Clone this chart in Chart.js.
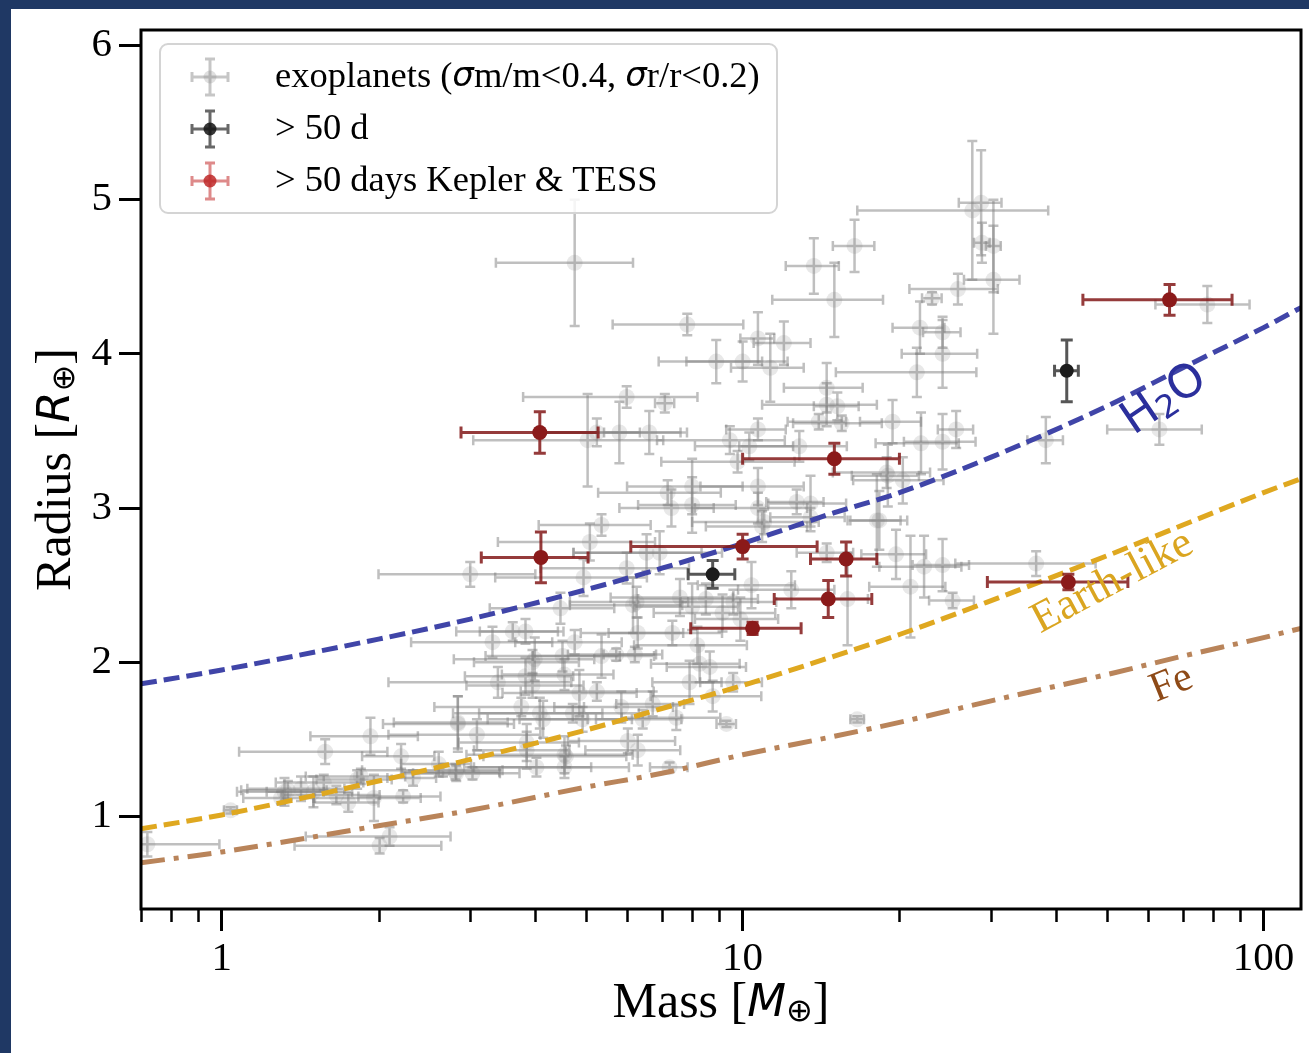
<!DOCTYPE html>
<html>
<head>
<meta charset="utf-8">
<script src="https://cdn.jsdelivr.net/npm/chart.js@4.4.1/dist/chart.umd.min.js"></script>
<style>
html, body { margin: 0; padding: 0; background: #1f3864; width: 1309px; height: 1053px; overflow: hidden; }
#wrap { position: absolute; left: 11px; top: 9px; width: 1298px; height: 1044px; background: #fff; }
</style>
</head>
<body>
<div id="wrap"><canvas id="mr" width="1298" height="1044"></canvas></div>
<script>
// all exoplanets with good mass/radius
var massAll = [0.72, 2.10, 2.01, 1.04, 1.32, 1.42, 1.50, 1.57, 1.66, 1.75, 1.85, 1.96, 2.23, 2.33, 2.21, 1.93, 1.58, 2.61, 2.84, 2.81,
  1.30, 1.34, 1.82, 5.36, 5.09, 3.00, 4.95, 4.47, 6.16, 6.29, 3.31, 3.62, 3.83, 4.76, 3.99, 4.51, 5.36, 5.72, 6.21, 3.39,
  3.83, 3.95, 4.55, 4.86, 5.25, 3.76, 4.08, 4.14, 4.72, 4.93, 5.85, 6.43, 6.72, 2.84, 3.09, 3.85, 4.55, 4.02, 4.55, 3.03,
  2.82, 6.02, 6.29, 7.46, 7.24, 9.31, 7.91, 8.27, 8.65, 9.59, 8.19, 7.33, 8.76, 7.58, 8.00, 8.50, 9.15, 9.60, 9.90, 6.26,
  10.4, 6.54, 6.93, 5.99, 10.9, 5.99, 7.09, 5.04, 5.25, 5.80, 6.62, 9.45, 10.7, 9.78, 10.3, 12.85, 14.5, 14.5, 15.2, 14.0,
  15.5, 19.4, 19.0, 7.18, 8.00, 8.00, 7.30, 10.7, 10.7, 11.0, 12.7, 13.5, 13.5, 18.3, 19.7, 14.5, 12.4, 15.9, 4.76, 7.83,
  8.9, 10.0, 10.7, 27.6, 28.7, 28.8, 30.3, 30.3, 25.9, 23.1, 16.4, 13.7, 15.0, 21.9, 24.2, 24.2, 21.6, 12.0, 11.3, 22.0,
  24.2, 25.7, 38.2, 18.9, 63.1, 20.3, 18.1, 22.3, 24.2, 21.0, 25.3, 36.6, 78.0, 16.6, 3.95, 3.85, 4.58, 2.66];
var massAllErr = [0.27, 0.65, 0.63, 0.03, 0.25, 0.30, 0.28, 0.30, 0.35, 0.25, 0.40, 0.45, 0.40, 0.25, 0.35, 0.45, 0.50, 0.40, 0.80, 0.60,
  0.20, 0.25, 0.30, 1.30, 1.70, 1.00, 1.60, 1.20, 1.50, 1.40, 1.00, 0.80, 0.70, 1.10, 1.20, 1.30, 1.40, 1.10, 0.80, 1.30,
  0.90, 1.00, 1.10, 1.40, 1.50, 1.20, 1.30, 0.90, 1.60, 1.20, 1.50, 1.20, 1.00, 0.70, 1.00, 0.80, 1.60, 1.10, 1.50, 0.70,
  0.60, 1.40, 1.30, 1.60, 0.60, 0.40, 1.20, 1.60, 1.50, 1.30, 2.00, 1.80, 2.10, 2.00, 1.80, 2.20, 2.40, 2.00, 1.80, 1.60,
  2.20, 1.80, 2.20, 1.90, 2.40, 2.20, 0.30, 2.00, 1.10, 1.80, 1.20, 2.60, 1.40, 2.80, 2.20, 3.00, 2.50, 3.60, 1.50, 1.80,
  3.00, 2.60, 2.80, 1.90, 2.00, 1.70, 1.50, 2.40, 2.60, 3.00, 1.60, 2.30, 2.20, 2.40, 2.80, 1.80, 2.60, 1.50, 1.40, 2.20,
  2.00, 2.20, 0.80, 11.0, 2.70, 1.00, 1.00, 3.70, 5.00, 1.00, 1.50, 1.60, 3.60, 2.50, 2.00, 4.00, 6.50, 1.50, 1.80, 4.00,
  3.80, 2.00, 3.00, 4.00, 13.0, 4.00, 2.00, 4.00, 3.00, 3.50, 2.50, 11.0, 16.0, 0.50, 0.90, 1.00, 1.40, 0.80];
var radiusAll = [0.82, 0.87, 0.81, 1.04, 1.16, 1.18, 1.16, 1.22, 1.14, 1.09, 1.26, 1.12, 1.13, 1.25, 1.39, 1.52, 1.42, 1.34, 1.60, 1.29,
  1.12, 1.17, 1.24, 2.89, 2.78, 2.57, 2.55, 2.35, 2.37, 2.19, 2.13, 2.20, 2.20, 2.13, 2.02, 2.04, 2.04, 2.05, 2.05, 1.87,
  1.91, 1.85, 1.92, 1.80, 1.81, 1.71, 1.67, 1.63, 1.67, 1.63, 1.71, 1.63, 1.73, 1.61, 1.53, 1.43, 1.40, 1.32, 1.32, 1.28,
  1.28, 1.49, 1.43, 1.64, 1.32, 1.60, 1.87, 1.99, 1.97, 1.87, 2.11, 2.19, 1.78, 2.42, 2.36, 2.41, 2.32, 2.39, 2.28, 2.39,
  2.50, 2.71, 2.71, 2.61, 2.88, 3.72, 3.68, 3.44, 3.49, 3.49, 3.49, 3.44, 3.51, 3.30, 3.40, 3.40, 3.78, 3.67, 3.66, 3.56,
  3.55, 3.56, 3.21, 3.10, 3.14, 3.02, 3.00, 3.14, 3.00, 2.91, 3.04, 3.03, 2.94, 2.92, 2.70, 2.71, 2.47, 2.41, 4.59, 4.19,
  3.95, 3.95, 4.10, 4.93, 4.98, 4.72, 4.70, 4.48, 4.42, 4.36, 4.70, 4.57, 4.35, 4.17, 4.14, 4.00, 3.88, 4.07, 3.91, 3.42,
  3.43, 3.51, 3.44, 3.23, 3.51, 3.18, 2.92, 2.62, 2.63, 2.49, 2.40, 2.64, 4.32, 1.63, 2.00, 1.48, 1.39, 1.30];
var radiusAllErr = [0.08, 0.06, 0.05, 0.02, 0.09, 0.08, 0.10, 0.05, 0.06, 0.06, 0.05, 0.15, 0.04, 0.05, 0.08, 0.12, 0.08, 0.08, 0.18, 0.05,
  0.04, 0.06, 0.06, 0.07, 0.12, 0.08, 0.12, 0.10, 0.18, 0.10, 0.10, 0.06, 0.08, 0.08, 0.14, 0.10, 0.14, 0.04, 0.05, 0.10,
  0.12, 0.08, 0.10, 0.15, 0.06, 0.06, 0.10, 0.12, 0.06, 0.08, 0.10, 0.06, 0.08, 0.17, 0.10, 0.12, 0.12, 0.06, 0.07, 0.04,
  0.05, 0.08, 0.10, 0.08, 0.03, 0.02, 0.14, 0.12, 0.10, 0.06, 0.12, 0.08, 0.10, 0.12, 0.15, 0.10, 0.12, 0.08, 0.14, 0.10,
  0.15, 0.12, 0.14, 0.10, 0.10, 0.07, 0.06, 0.30, 0.09, 0.20, 0.14, 0.09, 0.07, 0.07, 0.09, 0.10, 0.16, 0.14, 0.09, 0.05,
  0.05, 0.14, 0.20, 0.08, 0.18, 0.18, 0.12, 0.12, 0.10, 0.08, 0.08, 0.18, 0.06, 0.19, 0.16, 0.06, 0.12, 0.30, 0.41, 0.07,
  0.14, 0.13, 0.17, 0.45, 0.34, 0.13, 0.30, 0.35, 0.10, 0.04, 0.17, 0.18, 0.24, 0.17, 0.10, 0.22, 0.16, 0.14, 0.22, 0.20,
  0.18, 0.12, 0.15, 0.10, 0.10, 0.15, 0.30, 0.20, 0.17, 0.33, 0.05, 0.08, 0.12, 0.02, 0.08, 0.12, 0.07, 0.04];

// > 50 d
var massLong = [41.9, 8.76];
var massLongErr = [2.2, 0.9];
var radiusLong = [3.89, 2.57];
var radiusLongErr = [0.20, 0.09];

// > 50 days Kepler & TESS
var massKT = [4.08, 4.10, 15.0, 10.0, 10.45, 15.8, 14.6, 42.2, 66.0];
var massKTErr = [1.2, 0.95, 5.0, 3.9, 2.5, 2.3, 3.1, 12.7, 21.0];
var radiusKT = [3.49, 2.68, 3.32, 2.75, 2.22, 2.67, 2.41, 2.52, 4.35];
var radiusKTErr = [0.135, 0.165, 0.10, 0.08, 0.04, 0.11, 0.12, 0.05, 0.10];

// composition curves
var modelMass = [0.7, 1, 2, 3, 5, 7, 10, 15, 20, 30, 50, 70, 100, 118];
var rH2O = [1.86, 1.95, 2.15, 2.28, 2.47, 2.61, 2.77, 2.97, 3.10, 3.33, 3.66, 3.91, 4.17, 4.30];
var rEarth = [0.92, 1.01, 1.23, 1.37, 1.56, 1.70, 1.85, 2.04, 2.18, 2.40, 2.69, 2.89, 3.10, 3.19];
var rFe = [0.70, 0.77, 0.94, 1.04, 1.19, 1.28, 1.40, 1.52, 1.61, 1.75, 1.92, 2.04, 2.16, 2.22];

var xTicks = [1, 10, 100];
var xMinorTicks = [0.7, 0.8, 0.9, 2, 3, 4, 5, 6, 7, 8, 9, 20, 30, 40, 50, 60, 70, 80, 90];
var yTicks = [1, 2, 3, 4, 5, 6];

var serif = '"Liberation Serif", "Times New Roman", serif';
var sans = '"DejaVu Sans", sans-serif';

function pts(xs, ys) {
    var out = [];
    for (var i = 0; i < xs.length; i++) {
        out.push({x: xs[i], y: ys[i]});
    }
    return out;
}

// error bars, drawn under each dataset's markers
var errorBars = {
    id: 'errorBars',
    beforeDatasetDraw: function(chart, args) {
        var ds = chart.data.datasets[args.index];
        if (!ds.xErr) return;
        var ctx = chart.ctx, xs = chart.scales.x, ys = chart.scales.y, a = chart.chartArea;
        ctx.save();
        ctx.beginPath();
        ctx.rect(a.left, a.top, a.right - a.left, a.bottom - a.top);
        ctx.clip();
        ctx.strokeStyle = ds.errColor;
        ctx.lineWidth = ds.errWidth;
        var cap = ds.capSize;
        for (var i = 0; i < ds.data.length; i++) {
            var p = ds.data[i];
            var lo = Math.max(p.x - ds.xErr[i], 0.05);
            var x0 = xs.getPixelForValue(lo), x1 = xs.getPixelForValue(p.x + ds.xErr[i]);
            var y0 = ys.getPixelForValue(p.y - ds.yErr[i]), y1 = ys.getPixelForValue(p.y + ds.yErr[i]);
            var px = xs.getPixelForValue(p.x), py = ys.getPixelForValue(p.y);
            ctx.beginPath();
            ctx.moveTo(x0, py); ctx.lineTo(x1, py);
            ctx.moveTo(px, y0); ctx.lineTo(px, y1);
            ctx.moveTo(x0, py - cap); ctx.lineTo(x0, py + cap);
            ctx.moveTo(x1, py - cap); ctx.lineTo(x1, py + cap);
            ctx.moveTo(px - cap, y0); ctx.lineTo(px + cap, y0);
            ctx.moveTo(px - cap, y1); ctx.lineTo(px + cap, y1);
            ctx.stroke();
        }
        ctx.restore();
    }
};

function errIcon(ctx, cx, cy, barCol, dotCol) {
    ctx.save();
    ctx.strokeStyle = barCol;
    ctx.lineWidth = 3;
    ctx.beginPath();
    ctx.moveTo(cx - 18, cy); ctx.lineTo(cx + 18, cy);
    ctx.moveTo(cx, cy - 18); ctx.lineTo(cx, cy + 18);
    ctx.moveTo(cx - 18, cy - 5); ctx.lineTo(cx - 18, cy + 5);
    ctx.moveTo(cx + 18, cy - 5); ctx.lineTo(cx + 18, cy + 5);
    ctx.moveTo(cx - 5, cy - 18); ctx.lineTo(cx + 5, cy - 18);
    ctx.moveTo(cx - 5, cy + 18); ctx.lineTo(cx + 5, cy + 18);
    ctx.stroke();
    ctx.fillStyle = dotCol;
    ctx.beginPath();
    ctx.arc(cx, cy, 6.5, 0, Math.PI * 2);
    ctx.fill();
    ctx.restore();
}

// draws a list of [text, font, dy] pieces one after the other
function pieces(ctx, parts, x, y) {
    for (var i = 0; i < parts.length; i++) {
        ctx.font = parts[i][1];
        ctx.fillText(parts[i][0], x, y + (parts[i][2] || 0));
        x += ctx.measureText(parts[i][0]).width;
    }
}
function piecesWidth(ctx, parts) {
    var w = 0;
    for (var i = 0; i < parts.length; i++) {
        ctx.font = parts[i][1];
        w += ctx.measureText(parts[i][0]).width;
    }
    return w;
}

var decorations = {
    id: 'decorations',
    afterDatasetsDraw: function(chart) {
        var ctx = chart.ctx, xs = chart.scales.x, ys = chart.scales.y, a = chart.chartArea;
        ctx.save();
        ctx.fillStyle = '#000';
        ctx.textBaseline = 'middle';

        // curve labels: text pieces, colour, mass, radius, angle
        var labels = [
            [[['H', '46px ' + sans], ['2', '32px ' + sans, 9], ['O', '46px ' + sans]], '#2b2f9c', 64.6, 3.70, -34],
            [[['Earth-like', '44px ' + serif]], '#daa520', 51.3, 2.52, -28],
            [[['Fe', '42px ' + serif]], '#8e4a17', 66.6, 1.86, -22]
        ];
        for (var i = 0; i < labels.length; i++) {
            var l = labels[i];
            ctx.save();
            ctx.translate(xs.getPixelForValue(l[2]), ys.getPixelForValue(l[3]));
            ctx.rotate(l[4] * Math.PI / 180);
            ctx.fillStyle = l[1];
            ctx.textAlign = 'left';
            pieces(ctx, l[0], -piecesWidth(ctx, l[0]) / 2, 0);
            ctx.restore();
        }

        // legend
        var bx = a.left + 19, by = a.top + 14;
        ctx.beginPath();
        ctx.roundRect(bx, by, 617, 169, 8);
        ctx.fillStyle = 'rgba(255,255,255,0.85)';
        ctx.fill();
        ctx.strokeStyle = '#d4d4d4';
        ctx.lineWidth = 2;
        ctx.stroke();
        errIcon(ctx, bx + 50, by + 33, 'rgba(128,128,128,0.45)', 'rgba(128,128,128,0.25)');
        errIcon(ctx, bx + 50, by + 85, 'rgba(40,40,40,0.7)', 'rgba(20,20,20,0.85)');
        errIcon(ctx, bx + 50, by + 137, 'rgba(200,60,60,0.6)', 'rgba(190,40,40,0.85)');
        ctx.fillStyle = '#000';
        ctx.textAlign = 'left';
        var f = '36.5px ' + serif, fi = 'italic 34px ' + sans;
        pieces(ctx, [['exoplanets (', f], ['\u03c3', fi], ['m/m<0.4, ', f], ['\u03c3', fi], ['r/r<0.2)', f]], bx + 115, by + 33);
        pieces(ctx, [['> 50 d', f]], bx + 115, by + 85);
        pieces(ctx, [['> 50 days Kepler & TESS', f]], bx + 115, by + 137);

        // frame
        ctx.strokeStyle = '#000';
        ctx.lineWidth = 3;
        ctx.strokeRect(a.left, a.top, a.right - a.left, a.bottom - a.top);

        // minor ticks on the mass axis
        ctx.lineWidth = 2.5;
        ctx.beginPath();
        for (var j = 0; j < xMinorTicks.length; j++) {
            var tx = Math.round(xs.getPixelForValue(xMinorTicks[j])) + 0.5;
            ctx.moveTo(tx, a.bottom);
            ctx.lineTo(tx, a.bottom + 13);
        }
        ctx.stroke();

        // axis titles
        var fl = '50px ' + serif, fm = 'italic 45px ' + sans, fs = '32px ' + sans;
        var xt = [['Mass [', fl], ['M', fm], ['\u2295', fs, 9], [']', fl]];
        ctx.fillStyle = '#000';
        pieces(ctx, xt, (a.left + a.right) / 2 - piecesWidth(ctx, xt) / 2, a.bottom + 95);
        var yt = [['Radius [', fl], ['R', fm], ['\u2295', fs, 9], [']', fl]];
        ctx.save();
        ctx.translate(a.left - 84, (a.top + a.bottom) / 2);
        ctx.rotate(-Math.PI / 2);
        pieces(ctx, yt, -piecesWidth(ctx, yt) / 2, 0);
        ctx.restore();

        ctx.restore();
    }
};

const ctx = document.getElementById('mr');
new Chart(ctx, {
    type: 'scatter',
    data: {
        datasets: [{
            label: 'exoplanets',
            data: pts(massAll, radiusAll),
            xErr: massAllErr,
            yErr: radiusAllErr,
            errColor: 'rgba(128,128,128,0.5)',
            errWidth: 2.5,
            capSize: 5,
            pointRadius: 8,
            pointBorderWidth: 0,
            backgroundColor: 'rgba(128,128,128,0.18)',
            order: 5
        },
        {
            type: 'line',
            label: 'H2O',
            data: pts(modelMass, rH2O),
            borderColor: '#4045a8',
            borderWidth: 5,
            borderDash: [16, 7],
            pointRadius: 0,
            cubicInterpolationMode: 'monotone',
            order: 4
        },
        {
            type: 'line',
            label: 'Earth-like',
            data: pts(modelMass, rEarth),
            borderColor: '#dfa820',
            borderWidth: 5,
            borderDash: [16, 7],
            pointRadius: 0,
            cubicInterpolationMode: 'monotone',
            order: 4
        },
        {
            type: 'line',
            label: 'Fe',
            data: pts(modelMass, rFe),
            borderColor: '#b9845a',
            borderWidth: 5,
            borderDash: [24, 9, 5, 9],
            pointRadius: 0,
            cubicInterpolationMode: 'monotone',
            order: 4
        },
        {
            label: '> 50 d',
            data: pts(massLong, radiusLong),
            xErr: massLongErr,
            yErr: radiusLongErr,
            errColor: 'rgba(30,30,30,0.75)',
            errWidth: 3,
            capSize: 6,
            pointRadius: 7,
            pointBorderWidth: 0,
            backgroundColor: '#1c1c1c',
            order: 2
        },
        {
            label: '> 50 days Kepler & TESS',
            data: pts(massKT, radiusKT),
            xErr: massKTErr,
            yErr: radiusKTErr,
            errColor: 'rgba(130,25,25,0.85)',
            errWidth: 3,
            capSize: 6,
            pointRadius: 7.5,
            pointBorderWidth: 0,
            backgroundColor: '#8b1a1a',
            order: 1
        }]
    },
    options: {
        responsive: false,
        animation: false,
        layout: { padding: { top: 21, right: 8, left: 0, bottom: 0 } },
        plugins: {
            legend: { display: false },
            tooltip: { enabled: false }
        },
        scales: {
            x: {
                type: 'logarithmic',
                min: 0.7,
                max: 118,
                afterBuildTicks: function(scale) {
                    scale.ticks = xTicks.map(function(v) { return {value: v}; });
                },
                afterFit: function(scale) {
                    scale.height = 144;
                    scale.paddingLeft = 0;
                    scale.paddingRight = 0;
                },
                grid: { drawOnChartArea: false, tickLength: 22, tickWidth: 3, tickColor: '#000' },
                border: { display: false },
                ticks: {
                    autoSkip: false,
                    maxRotation: 0,
                    padding: 4,
                    color: '#000',
                    font: { family: serif, size: 41 },
                    callback: function(v) { return String(v); }
                }
            },
            y: {
                min: 0.4,
                max: 6.1,
                afterBuildTicks: function(scale) {
                    scale.ticks = yTicks.map(function(v) { return {value: v}; });
                },
                afterFit: function(scale) {
                    scale.width = 130;
                    scale.paddingTop = 0;
                    scale.paddingBottom = 0;
                },
                grid: { drawOnChartArea: false, tickLength: 22, tickWidth: 3, tickColor: '#000' },
                border: { display: false },
                ticks: {
                    padding: 7,
                    color: '#000',
                    font: { family: serif, size: 41 },
                    callback: function(v) { return String(v); }
                }
            }
        }
    },
    plugins: [errorBars, decorations]
});
</script>
</body>
</html>
